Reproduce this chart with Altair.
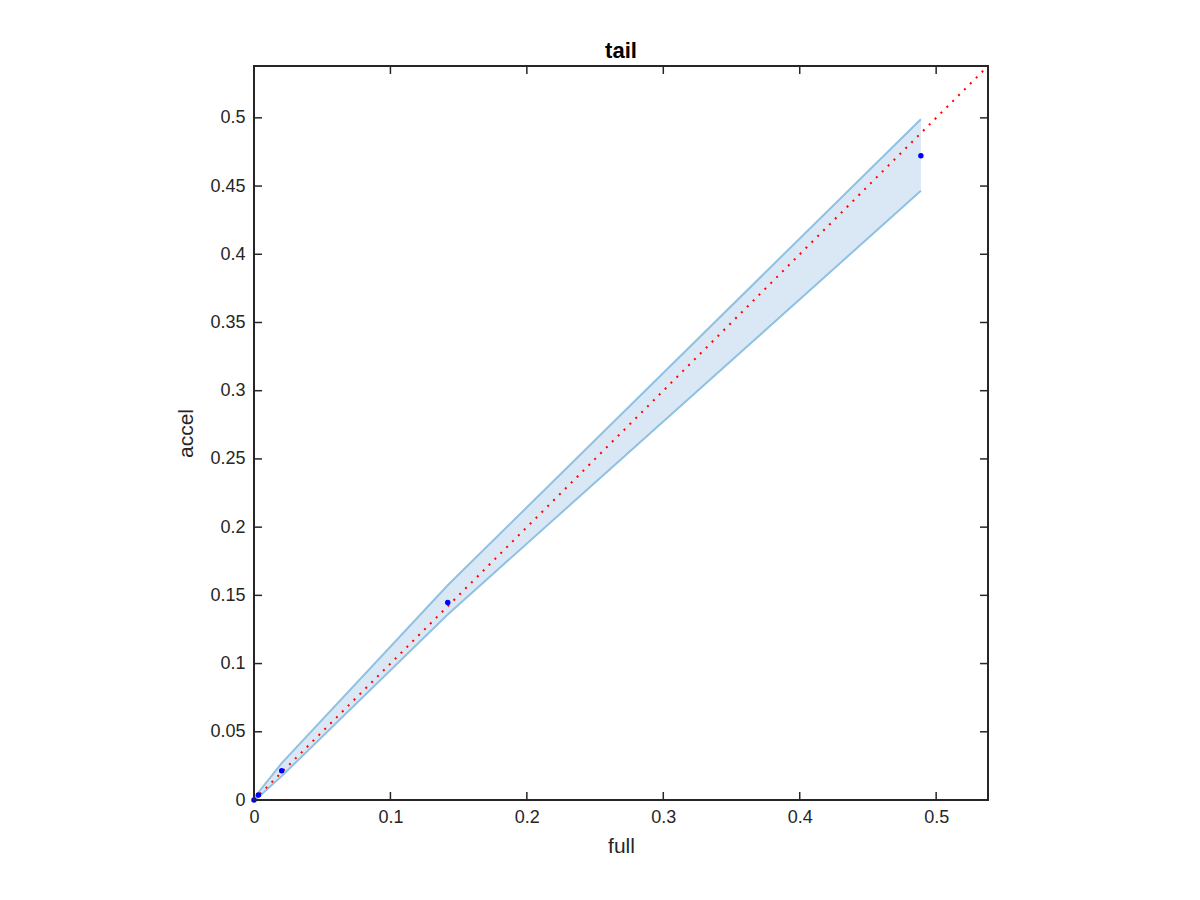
import altair as alt
import pandas as pd

# Data
pt_x = [0.0, 0.0032, 0.0203, 0.142, 0.4888]
pt_y = [0.0, 0.0037, 0.0215, 0.1447, 0.4722]
band_upper = [0.0, 0.0055, 0.027, 0.1574, 0.499]
band_lower = [0.0, 0.002, 0.0175, 0.136, 0.4465]
diag = [0.0, 0.538]
x_ticks = [0, 0.1, 0.2, 0.3, 0.4, 0.5]
y_ticks = [0, 0.05, 0.1, 0.15, 0.2, 0.25, 0.3, 0.35, 0.4, 0.45, 0.5]

W = 734
H = 734
FONT = "Liberation Sans"
AX = "#262626"
DOM = [0, 0.538]

pts = pd.DataFrame({"x": pt_x, "y": pt_y})
band = pd.DataFrame({"x": pt_x, "lo": band_lower, "hi": band_upper})
dline = pd.DataFrame({"x": diag, "y": diag})
xt = pd.DataFrame({"v": x_ticks})
yt = pd.DataFrame({"v": y_ticks})

xscale = alt.Scale(domain=DOM, nice=False, zero=False)
yscale = alt.Scale(domain=DOM, nice=False, zero=False)

xaxis = alt.Axis(values=x_ticks, format="~g", ticks=False, domain=False, grid=False,
                 labelFontSize=18, labelFont=FONT, labelColor=AX, labelPadding=8,
                 title="full", titleFontSize=21, titleFont=FONT, titleFontWeight="normal",
                 titleColor=AX, titlePadding=9, labelFlush=False)
yaxis = alt.Axis(values=y_ticks, format="~g", ticks=False, domain=False, grid=False,
                 labelFontSize=18, labelFont=FONT, labelColor=AX, labelPadding=9,
                 title="accel", titleFontSize=21, titleFont=FONT, titleFontWeight="normal",
                 titleColor=AX, titlePadding=13, labelFlush=False)

area = alt.Chart(band).mark_area(color="#d9e8f4", opacity=1).encode(
    x=alt.X("x:Q", scale=xscale, axis=xaxis),
    y=alt.Y("lo:Q", scale=yscale, axis=yaxis),
    y2="hi:Q",
)
upper = alt.Chart(band).mark_line(color="#8fc1e3", strokeWidth=2).encode(
    x=alt.X("x:Q", scale=xscale), y=alt.Y("hi:Q", scale=yscale))
lower = alt.Chart(band).mark_line(color="#8fc1e3", strokeWidth=2).encode(
    x=alt.X("x:Q", scale=xscale), y=alt.Y("lo:Q", scale=yscale))
red = alt.Chart(dline).mark_line(color="#ff0000", strokeWidth=2, strokeDash=[2, 6.3], clip=True).encode(
    x=alt.X("x:Q", scale=xscale), y=alt.Y("y:Q", scale=yscale))
dots = alt.Chart(pts).mark_circle(color="#0000ff", size=30, opacity=1).encode(
    x=alt.X("x:Q", scale=xscale), y=alt.Y("y:Q", scale=yscale))

TL = 8
tick_bottom = alt.Chart(xt).mark_rule(color=AX, strokeWidth=1.5).encode(
    x=alt.X("v:Q", scale=xscale), y=alt.value(H), y2=alt.value(H - TL))
tick_top = alt.Chart(xt).mark_rule(color=AX, strokeWidth=1.5).encode(
    x=alt.X("v:Q", scale=xscale), y=alt.value(0), y2=alt.value(TL))
tick_left = alt.Chart(yt).mark_rule(color=AX, strokeWidth=1.5).encode(
    y=alt.Y("v:Q", scale=yscale), x=alt.value(0), x2=alt.value(TL))
tick_right = alt.Chart(yt).mark_rule(color=AX, strokeWidth=1.5).encode(
    y=alt.Y("v:Q", scale=yscale), x=alt.value(W), x2=alt.value(W - TL))

chart = alt.layer(area, upper, lower, red, dots, tick_bottom, tick_top, tick_left, tick_right).properties(
    width=W, height=H,
    title=alt.TitleParams("tail", fontSize=22, font=FONT, fontWeight="bold", color="#000000",
                          anchor="middle", offset=2),
    autosize=alt.AutoSizeParams(type="none"),
    padding={"left": 246, "top": 58, "right": 204, "bottom": 92},
    background="white",
).configure_view(stroke=AX, strokeWidth=2)

chart.save("out.html", embed_options={"renderer": "svg", "actions": False})
